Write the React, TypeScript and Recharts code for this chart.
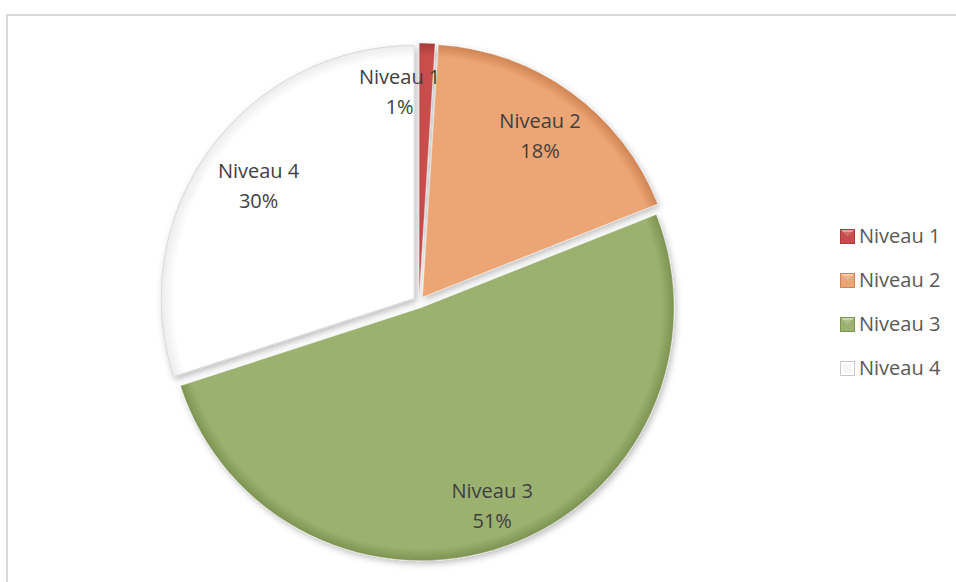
import React from 'react';
import { PieChart, Pie, Cell, Legend, Sector } from 'recharts';

const categories = ['Niveau 1', 'Niveau 2', 'Niveau 3', 'Niveau 4'];
const values = [1, 18, 51, 30];
const colors = ['#c84d4c', '#eca574', '#9bb16f', '#ffffff'];
const edgeColors = ['#a33b3a', '#cf8452', '#7d9352', '#ececec'];

const data = categories.map((name, i) => ({ name, value: values[i] }));

const RADIAN = Math.PI / 180;
const EXPLODE = 6;
const CX = 419;
const CY = 302;
const R = 253;
const labelFactor = [0.81, 0.79, 0.83, 0.76];
const labelNudgeX = [-26, 0, 0, 0];
const FONT = '"Open Sans", "Noto Sans", sans-serif';

function idxOf(props: any): number {
  const n = props.name ?? (props.payload && props.payload.name);
  const i = categories.indexOf(n);
  return i < 0 ? 0 : i;
}

function ExplodedSector(props: any) {
  const { cx, cy, midAngle, innerRadius, outerRadius, startAngle, endAngle } = props;
  const i = idxOf(props);
  const dx = EXPLODE * Math.cos(-midAngle * RADIAN);
  const dy = EXPLODE * Math.sin(-midAngle * RADIAN);
  const scx = cx + dx;
  const scy = cy + dy;
  return (
    <g>
      <defs>
        <filter id={`shadow-${i}`} x="-20%" y="-20%" width="140%" height="140%">
          <feDropShadow dx="2" dy="3" stdDeviation="3" floodColor="#000" floodOpacity="0.25" />
        </filter>
        <radialGradient id={`grad-${i}`} gradientUnits="userSpaceOnUse" cx={scx} cy={scy} r={outerRadius}>
          <stop offset="0" stopColor={colors[i]} />
          <stop offset="0.95" stopColor={colors[i]} />
          <stop offset="1" stopColor={edgeColors[i]} />
        </radialGradient>
      </defs>
      <g filter={`url(#shadow-${i})`}>
        <Sector
          cx={scx}
          cy={scy}
          innerRadius={innerRadius}
          outerRadius={outerRadius}
          startAngle={startAngle}
          endAngle={endAngle}
          fill={`url(#grad-${i})`}
          stroke={i === 3 ? '#d9d9d9' : 'rgba(255,255,255,0.35)'}
          strokeWidth={1}
        />
      </g>
    </g>
  );
}

function renderLabel(props: any) {
  const { cx, cy, midAngle, outerRadius, percent } = props;
  const i = idxOf(props);
  const ox = cx + EXPLODE * Math.cos(-midAngle * RADIAN);
  const oy = cy + EXPLODE * Math.sin(-midAngle * RADIAN);
  const r = outerRadius * labelFactor[i];
  const x = ox + r * Math.cos(-midAngle * RADIAN) + labelNudgeX[i];
  const y = oy + r * Math.sin(-midAngle * RADIAN);
  return (
    <text x={x} y={y} textAnchor="middle" fill="#404040" fontSize={20} fontFamily={FONT}>
      <tspan x={x} y={y - 15} dominantBaseline="central">{categories[i]}</tspan>
      <tspan x={x} y={y + 15} dominantBaseline="central">{`${Math.round(percent * 100)}%`}</tspan>
    </text>
  );
}

function LegendIcon({ i }: { i: number }) {
  const c = colors[i];
  const e = i === 3 ? '#c8c8c8' : edgeColors[i];
  return (
    <svg width={15} height={15} style={{ display: 'block' }}>
      <rect x={0.5} y={0.5} width={14} height={14} fill={c} stroke={e} strokeWidth={1} />
      <polygon points="1,1 14,1 7.5,7.5" fill={i === 3 ? '#ffffff' : 'rgba(255,255,255,0.45)'} />
      <rect x={3} y={3} width={9} height={9} fill={i === 3 ? '#f0f0f0' : c} opacity={0.6} />
    </svg>
  );
}

function renderLegend(props: any) {
  const payload = props.payload || [];
  return (
    <div style={{ fontFamily: FONT }}>
      {payload.map((p: any) => {
        const i = categories.indexOf(p.value);
        return (
          <div key={p.value} style={{ display: 'flex', alignItems: 'center', height: 44 }}>
            <LegendIcon i={i < 0 ? 0 : i} />
            <span style={{ marginLeft: 4, fontSize: 20, color: '#595959', lineHeight: '24px' }}>{p.value}</span>
          </div>
        );
      })}
    </div>
  );
}

export default function App() {
  return (
    <div style={{ position: 'absolute', left: 0, top: 0, width: 956, height: 582, overflow: 'hidden', background: '#fff' }}>
      <div
        style={{
          position: 'absolute',
          left: 6,
          top: 14,
          width: 1000,
          height: 1000,
          border: '2px solid #dadada',
          boxSizing: 'border-box',
        }}
      />
      <div style={{ position: 'absolute', left: 0, top: 0 }}>
        <PieChart width={956} height={582} margin={{ top: 0, right: 0, bottom: 0, left: 0 }}>
          <Pie
            data={data}
            dataKey="value"
            nameKey="name"
            cx={CX}
            cy={CY}
            outerRadius={R}
            startAngle={90}
            endAngle={-270}
            stroke="none"
            labelLine={false}
            label={renderLabel}
            isAnimationActive={false}
            shape={ExplodedSector}
            activeShape={ExplodedSector}
            inactiveShape={ExplodedSector}
          >
            {data.map((d, i) => (
              <Cell key={d.name} fill={colors[i]} />
            ))}
          </Pie>
          <Legend
            layout="vertical"
            align="right"
            verticalAlign="top"
            content={renderLegend}
            wrapperStyle={{ position: 'absolute', left: 840, top: 214, width: 116 }}
          />
        </PieChart>
      </div>
    </div>
  );
}
